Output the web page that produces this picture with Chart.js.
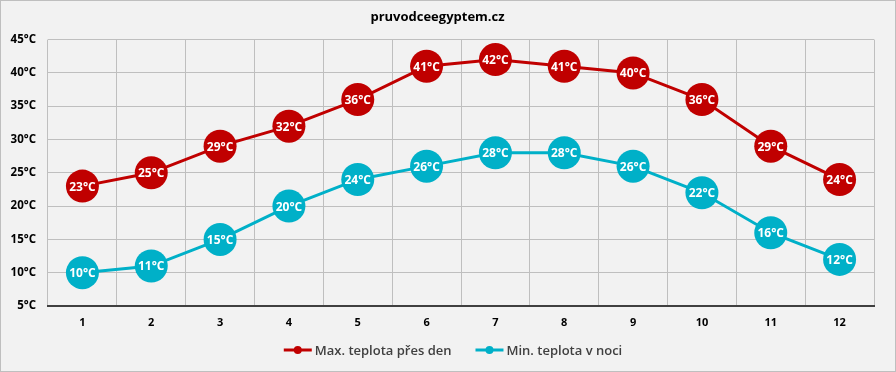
<!DOCTYPE html>
<html><head><meta charset="utf-8">
<script src="https://cdn.jsdelivr.net/npm/chart.js@4"></script>
<style>
html,body{margin:0;padding:0;background:#fff;}
#wrap{position:relative;width:894px;height:370px;border:1px solid #bfbfbf;background:#f2f2f2;}
</style></head>
<body><div id="wrap"><canvas id="c" width="894" height="370"></canvas></div>
<script>
const categories = ['1','2','3','4','5','6','7','8','9','10','11','12'];
const maxTemps = [23,25,29,32,36,41,42,41,40,36,29,24];
const minTemps = [10,11,15,20,24,26,28,28,26,22,16,12];
const seriesNames = ['Max. teplota přes den','Min. teplota v noci'];
const titleText = 'pruvodceegyptem.cz';
const RED = '#c00000', CYAN = '#00b0c8';
const FONT = "'Open Sans', 'DejaVu Sans', sans-serif";

const labelPlugin = {
  id:'dlabels',
  afterDatasetsDraw(chart){
    const ctx = chart.ctx;
    ctx.save();
    ctx.font = "bold 12px " + FONT;
    ctx.fillStyle = '#fff';
    ctx.textAlign = 'center'; ctx.textBaseline = 'middle';
    chart.data.datasets.forEach((ds,i)=>{
      chart.getDatasetMeta(i).data.forEach((pt,j)=>{
        ctx.fillText(ds.data[j]+'°C', pt.x, pt.y+1);
      });
    });
    ctx.restore();
  }
};

const legendPlugin = {
  id:'customLegend',
  afterDraw(chart){
    const ctx = chart.ctx;
    ctx.save();
    ctx.font = "600 13px " + FONT;
    ctx.textBaseline = 'middle';
    const markerW = 28, gapText = 3, gapItems = 24;
    const items = chart.data.datasets.map(ds=>({text:ds.label, color:ds.borderColor, w:ctx.measureText(ds.label).width}));
    let total = items.reduce((a,it)=>a+markerW+gapText+it.w,0) + gapItems*(items.length-1);
    let x = (chart.chartArea.left + chart.chartArea.right)/2 - total/2 - 8;
    const y = 349;
    items.forEach(it=>{
      ctx.strokeStyle = it.color; ctx.lineWidth = 3;
      ctx.beginPath(); ctx.moveTo(x, y); ctx.lineTo(x+markerW, y); ctx.stroke();
      ctx.fillStyle = it.color; ctx.beginPath(); ctx.arc(x+markerW/2, y, 4, 0, Math.PI*2); ctx.fill();
      ctx.fillStyle = '#404040';
      ctx.fillText(it.text, x+markerW+gapText, y+1);
      x += markerW + gapText + it.w + gapItems;
    });
    ctx.restore();
  }
};

new Chart(document.getElementById('c'), {
  type:'line',
  data:{
    labels: categories,
    datasets:[
      {label: seriesNames[0], data:maxTemps, borderColor:RED, backgroundColor:RED, borderWidth:3,
       pointRadius:16.5, pointHoverRadius:16.5, pointBorderWidth:0},
      {label: seriesNames[1], data:minTemps, borderColor:CYAN, backgroundColor:CYAN, borderWidth:3,
       pointRadius:16.5, pointHoverRadius:16.5, pointBorderWidth:0}
    ]
  },
  options:{
    responsive:false, animation:false,
    layout:{padding:{left:0,right:21,top:0,bottom:40}},
    scales:{
      x:{
        offset:true,
        afterFit(s){ s.height = 25; },
        grid:{offset:true, color:'#bfbfbf', lineWidth:1, drawTicks:false},
        border:{color:'#404040', width:2},
        ticks:{color:'#000', font:{family:FONT, size:11, weight:'bold'}, padding:10}
      },
      y:{
        min:5, max:45,
        afterFit(s){ s.width = 47; },
        grid:{color:'#bfbfbf', lineWidth:1, drawTicks:false},
        border:{display:false},
        ticks:{stepSize:5, color:'#000', font:{family:FONT, size:11.5, weight:'bold'}, padding:12,
               callback:v=>v+'°C'}
      }
    },
    plugins:{
      title:{display:true, text:titleText, color:'#000', font:{family:FONT, size:13, weight:'bold'},
             padding:{top:8,bottom:15}},
      legend:{display:false},
      tooltip:{enabled:false}
    }
  },
  plugins:[labelPlugin, legendPlugin]
});
</script></body></html>
